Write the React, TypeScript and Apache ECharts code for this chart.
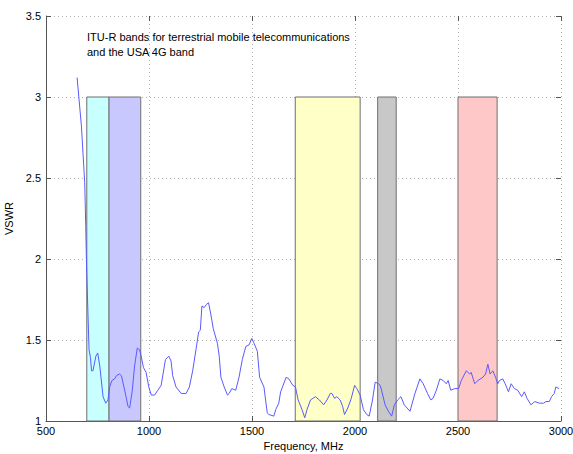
import React, { useEffect, useRef } from "react";
import * as echarts from "echarts";

// VSWR measurement: frequency (MHz) and VSWR values
const freqs = [
  651, 672, 688, 693, 697, 703, 709, 716, 721, 728, 742, 751, 761, 777, 790, 801, 809, 820, 833, 842,
  857, 866, 882, 898, 906, 919, 930, 943, 954, 962, 973, 986, 999, 1011, 1027, 1043, 1059, 1080, 1096, 1107,
  1115, 1131, 1156, 1180, 1196, 1212, 1228, 1241, 1249, 1257, 1268, 1279, 1289, 1300, 1312, 1332, 1341, 1349, 1365, 1381,
  1389, 1402, 1421, 1437, 1453, 1470, 1486, 1499, 1510, 1526, 1537, 1558, 1574, 1582, 1606, 1615, 1630, 1639, 1666, 1679,
  1698, 1711, 1724, 1743, 1756, 1767, 1784, 1808, 1827, 1848, 1864, 1880, 1888, 1901, 1912, 1928, 1940, 1949, 1965, 1982,
  1998, 2009, 2025, 2041, 2057, 2069, 2085, 2098, 2114, 2122, 2129, 2146, 2162, 2178, 2191, 2207, 2223, 2239, 2267, 2291,
  2315, 2331, 2352, 2368, 2379, 2395, 2412, 2428, 2443, 2452, 2465, 2484, 2503, 2516, 2540, 2557, 2564, 2581, 2597, 2621,
  2634, 2645, 2656, 2669, 2682, 2693, 2701, 2717, 2729, 2745, 2758, 2774, 2790, 2809, 2822, 2835, 2854, 2873, 2895, 2915,
  2927, 2943, 2954, 2967, 2975, 2990,
];
const vswr = [
  3.12, 2.82, 2.47, 2.2, 1.95, 1.69, 1.44, 1.39, 1.31, 1.31, 1.4, 1.42, 1.34, 1.15, 1.11, 1.13, 1.21, 1.25, 1.26, 1.28,
  1.29, 1.28, 1.19, 1.09, 1.08, 1.19, 1.34, 1.45, 1.44, 1.4, 1.33, 1.3, 1.21, 1.16, 1.16, 1.19, 1.22, 1.38, 1.4, 1.37,
  1.28, 1.21, 1.17, 1.17, 1.21, 1.31, 1.44, 1.55, 1.56, 1.71, 1.7, 1.72, 1.73, 1.66, 1.57, 1.48, 1.4, 1.27, 1.21, 1.16,
  1.17, 1.2, 1.19, 1.27, 1.38, 1.46, 1.47, 1.51, 1.48, 1.43, 1.27, 1.21, 1.05, 1.04, 1.03, 1.07, 1.11, 1.18, 1.27, 1.26,
  1.22, 1.21, 1.13, 1.07, 1.02, 1.07, 1.13, 1.15, 1.13, 1.1, 1.13, 1.17, 1.17, 1.14, 1.15, 1.13, 1.09, 1.04, 1.08, 1.14,
  1.22, 1.2, 1.16, 1.07, 1.04, 1.03, 1.13, 1.24, 1.23, 1.22, 1.19, 1.1, 1.06, 1.03, 1.1, 1.13, 1.15, 1.1, 1.06, 1.17,
  1.26, 1.23, 1.17, 1.13, 1.14, 1.19, 1.26, 1.25, 1.23, 1.25, 1.19, 1.2, 1.2, 1.25, 1.31, 1.29, 1.3, 1.23, 1.25, 1.27,
  1.29, 1.35, 1.29, 1.31, 1.27, 1.23, 1.25, 1.26, 1.23, 1.18, 1.23, 1.2, 1.19, 1.15, 1.18, 1.14, 1.1, 1.12, 1.11, 1.11,
  1.12, 1.12, 1.15, 1.17, 1.21, 1.2,
];

// Frequency bands (MHz)
const bandStart = [698, 806, 1710, 2110, 2500];
const bandEnd = [806, 960, 2025, 2200, 2690];
const bandTop = [3, 3, 3, 3, 3];
const bandBottom = [1, 1, 1, 1, 1];
const bandColors = ["#c8ffff", "#c8c8ff", "#ffffc8", "#c8c8c8", "#ffc8c8"];

const annotationLines = [
  "ITU-R bands for terrestrial mobile telecommunications",
  "and the USA 4G band",
];

const FONT = "Liberation Sans, Arial, sans-serif";

export default function App() {
  const ref = useRef<HTMLDivElement>(null);

  useEffect(() => {
    if (!ref.current) return;
    const chart = echarts.init(ref.current, undefined, { renderer: "svg" });

    const lineData = freqs.map((f, i) => [f, vswr[i]]);
    const bandData = bandStart.map((s, i) => [s, bandEnd[i], bandBottom[i], bandTop[i], i]);

    const gridLine = { show: true, lineStyle: { color: "#b0b0b0", type: [1, 3] as any, width: 1 } };

    chart.setOption({
      animation: false,
      backgroundColor: "#ffffff",
      grid: {
        left: 46,
        right: 12,
        top: 16,
        bottom: 33,
        containLabel: false,
        outerBoundsMode: "none",
      },
      xAxis: [
        {
          type: "value",
          min: 500,
          max: 3000,
          interval: 500,
          name: "Frequency, MHz",
          nameLocation: "middle",
          nameGap: 18,
          nameTextStyle: { fontFamily: FONT, fontSize: 11, color: "#000" },
          axisLine: { show: true, lineStyle: { color: "#555", width: 1 } },
          axisTick: { show: true, inside: true, length: 5, lineStyle: { color: "#555" } },
          axisLabel: {
            margin: 4,
            fontFamily: FONT,
            fontSize: 11,
            color: "#000",
            formatter: (v: number) => String(v),
          },
          splitLine: gridLine,
        },
        {
          type: "value",
          position: "top",
          min: 500,
          max: 3000,
          interval: 500,
          axisLine: { show: false },
          axisTick: { show: true, inside: true, length: 5, lineStyle: { color: "#555" } },
          axisLabel: { show: false },
          splitLine: { show: false },
        },
      ],
      yAxis: [
        {
          type: "value",
          min: 1,
          max: 3.5,
          interval: 0.5,
          name: "VSWR",
          nameLocation: "middle",
          nameGap: 27,
          nameTextStyle: { fontFamily: FONT, fontSize: 11, color: "#000" },
          axisLine: { show: true, lineStyle: { color: "#555", width: 1 } },
          axisTick: { show: true, inside: true, length: 5, lineStyle: { color: "#555" } },
          axisLabel: {
            margin: 5,
            fontFamily: FONT,
            fontSize: 11,
            color: "#000",
            formatter: (v: number) => String(v),
          },
          splitLine: gridLine,
        },
        {
          type: "value",
          position: "right",
          min: 1,
          max: 3.5,
          interval: 0.5,
          axisLine: { show: false },
          axisTick: { show: true, inside: true, length: 5, lineStyle: { color: "#555" } },
          axisLabel: { show: false },
          splitLine: { show: false },
        },
      ],
      graphic: [
        {
          type: "text",
          left: 87,
          top: 29,
          z: 10,
          style: {
            text: annotationLines.join("\n"),
            font: `11px ${FONT}`,
            fill: "#000",
            lineHeight: 15,
          },
        },
      ],
      series: [
        {
          type: "custom",
          xAxisIndex: 0,
          yAxisIndex: 0,
          z: 1,
          silent: true,
          data: bandData,
          encode: { x: [0, 1], y: [2, 3] },
          renderItem: (params: any, api: any) => {
            const p1 = api.coord([api.value(0), api.value(3)]);
            const p2 = api.coord([api.value(1), api.value(2)]);
            const idx = api.value(4);
            return {
              type: "rect",
              shape: { x: p1[0], y: p1[1], width: p2[0] - p1[0], height: p2[1] - p1[1] },
              style: { fill: bandColors[idx], stroke: "#6f6f6f", lineWidth: 1 },
            };
          },
        },
        {
          type: "line",
          xAxisIndex: 0,
          yAxisIndex: 0,
          z: 5,
          data: lineData,
          showSymbol: false,
          symbol: "none",
          lineStyle: { color: "#5a5aff", width: 1 },
          silent: true,
        },
      ],
    });

    return () => chart.dispose();
  }, []);

  return (
    <div
      ref={ref}
      style={{ position: "fixed", left: 0, top: 0, width: 573, height: 454, background: "#fff" }}
    />
  );
}
